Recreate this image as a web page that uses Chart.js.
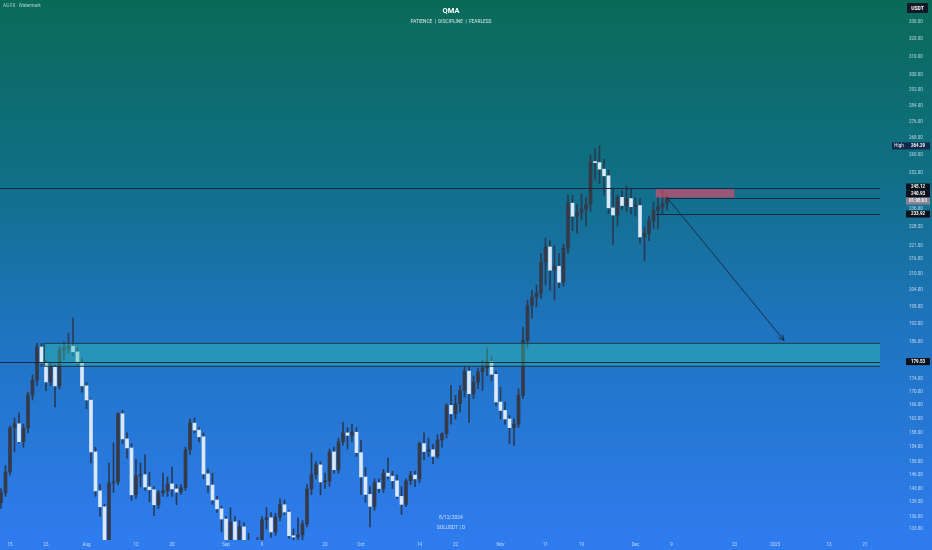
<!DOCTYPE html>
<html>
<head>
<meta charset="utf-8">
<script src="https://cdn.jsdelivr.net/npm/chart.js@4.4.1/dist/chart.umd.min.js"></script>
<style>
  html, body { margin: 0; padding: 0; background: #1a6f9a; }
  #wrap { width: 932px; height: 550px; }
</style>
</head>
<body>
<div id="wrap"><canvas id="chart" width="932" height="550"></canvas></div>
<script>
// SOLUSDT daily, first candle on startDate
const startDate = '2024-07-13';

const opens = [
  139.4,141.9,147.3,159.4,160.6,155.5,159.4,169.1,173.7,184.3,
  179.1,173.1,177.8,171.9,183.4,184.0,184.6,182.7,179.1,171.9,
  167.6,152.7,142.4,138.4,129.5,144.4,144.7,163.5,156.3,153.8,
  141.4,146.3,146.6,143.4,142.7,138.9,141.9,142.4,144.2,142.9,
  142.1,143.2,153.3,160.8,158.8,156.9,146.8,143.9,140.1,137.9,
  135.4,130.0,134.7,130.5,133.5,129.0,127.0,128.0,129.5,135.2,
  135.7,132.3,135.9,138.9,137.1,131.4,131.1,131.6,134.2,142.9,
  146.6,149.2,144.7,144.9,152.7,147.9,155.5,158.0,157.3,158.2,
  152.5,146.0,141.5,138.5,144.5,143.0,147.0,146.2,145.0,141.0,
  139.0,145.0,146.5,145.5,155.0,152.8,153.3,151.5,156.0,157.8,
  166.0,163.5,166.5,170.5,176.5,169.5,173.0,176.3,177.5,179.5,
  175.5,167.0,164.5,162.0,159.5,160.5,169.0,186.5,198.5,201.5,
  203.0,214.5,220.5,211.5,213.0,207.0,220.0,238.5,233.0,234.5,
  236.0,238.0,257.0,256.5,253.5,250.5,236.5,233.5,241.0,237.5,
  240.5,237.0,237.5,224.5,226.0,231.0,235.5,237.0,238.5
];
const highs = [
  143.0,149.0,160.0,162.3,163.8,160.5,170.0,175.3,185.5,185.5,
  180.0,179.0,178.5,184.5,186.0,189.0,194.1,184.0,180.5,173.0,
  168.0,154.0,144.0,139.0,149.7,155.2,163.8,164.5,158.0,155.0,
  150.6,149.7,151.9,147.3,143.5,142.5,147.0,146.0,148.6,144.0,
  144.0,154.0,162.0,162.3,159.5,158.0,148.0,147.0,141.0,138.5,
  136.0,138.2,136.0,135.0,134.5,132.0,130.0,131.0,136.0,138.2,
  137.0,136.8,140.4,140.1,137.5,133.0,135.7,135.0,144.0,152.4,
  150.0,150.0,147.0,153.5,154.0,156.5,161.0,159.5,160.5,159.5,
  156.0,148.5,143.5,145.5,145.5,148.0,151.0,147.5,146.5,143.5,
  145.5,147.5,147.5,155.5,158.0,156.5,154.8,157.5,158.0,166.5,
  172.0,169.0,172.0,178.0,178.0,175.0,177.5,180.0,184.0,181.0,
  176.5,171.5,167.0,163.0,162.0,171.0,191.0,200.5,204.0,206.0,
  218.0,224.0,223.0,221.0,218.0,221.5,242.0,242.0,238.0,242.5,
  241.0,260.0,263.0,264.3,258.0,253.0,245.0,242.0,244.0,246.0,
  245.0,241.0,240.5,228.5,233.0,239.0,241.0,244.0,242.0
];
const lows = [
  138.0,141.0,146.5,152.7,155.2,154.0,158.0,167.6,172.0,178.0,
  170.4,172.0,165.5,171.0,180.0,182.4,181.5,178.0,170.0,165.0,
  149.7,141.0,136.0,110.0,128.0,142.0,143.9,155.0,151.0,140.0,
  140.5,143.4,142.5,139.6,136.2,138.0,141.0,141.0,141.0,138.9,
  141.5,142.5,152.0,158.0,155.5,145.5,142.0,139.0,137.0,132.3,
  128.0,129.0,129.0,127.0,128.0,123.0,125.0,126.0,129.0,133.0,
  131.0,131.5,135.0,136.5,130.8,128.0,129.0,129.0,133.5,141.4,
  145.5,141.4,143.0,143.5,147.0,147.0,154.5,153.5,155.5,151.5,
  141.5,139.5,133.5,137.5,142.0,142.0,145.5,143.0,140.5,136.5,
  138.5,144.0,143.5,144.5,150.5,151.5,149.5,151.0,154.0,156.5,
  160.5,162.0,164.0,168.5,161.0,168.0,171.0,170.5,175.0,173.5,
  166.0,162.0,160.5,155.0,154.5,159.5,168.0,184.0,194.0,198.0,
  201.0,206.0,204.0,200.5,205.0,205.5,218.0,227.0,226.0,231.5,
  229.0,235.0,249.0,247.0,242.0,234.0,221.5,229.0,236.0,235.0,
  234.0,233.0,222.0,215.0,223.0,228.0,228.0,234.0,235.5
];
const closes = [
  141.9,147.3,159.4,160.6,155.5,159.4,169.1,173.7,184.3,179.1,
  173.1,177.8,171.9,183.4,184.0,184.6,182.7,179.1,171.9,167.6,
  152.7,142.4,138.4,129.5,144.4,144.7,163.5,156.3,153.8,141.4,
  146.3,146.6,143.4,142.7,138.9,141.9,142.4,144.2,142.9,142.1,
  143.2,153.3,160.8,158.8,156.9,146.8,143.9,140.1,137.9,135.4,
  130.0,134.7,130.5,133.5,129.0,127.0,128.0,129.5,135.2,135.7,
  132.3,135.9,138.9,137.1,131.4,131.1,131.6,134.2,142.9,146.6,
  149.2,144.7,144.9,152.7,147.9,155.5,158.0,157.3,158.2,152.5,
  146.0,141.5,138.5,144.5,143.0,147.0,146.2,145.0,141.0,139.0,
  145.0,146.5,145.5,155.0,152.8,153.3,151.5,156.0,157.8,166.0,
  163.5,166.5,170.5,176.5,169.5,173.0,176.3,177.5,179.5,175.5,
  167.0,164.5,162.0,159.5,160.5,169.0,186.5,198.5,201.5,203.0,
  214.5,220.5,211.5,213.0,207.0,220.0,238.5,233.0,234.5,236.0,
  238.0,257.0,256.5,253.5,250.5,236.5,233.5,241.0,237.5,240.5,
  237.0,237.5,224.5,226.0,231.0,235.5,237.0,238.5,240.93
];

// axis ticks
const xTickDates  = ['2024-07-15','2024-07-23','2024-08-01','2024-08-12','2024-08-20','2024-09-01','2024-09-09',
                     '2024-09-23','2024-10-01','2024-10-14','2024-10-22','2024-11-01','2024-11-11','2024-11-19',
                     '2024-12-01','2024-12-09','2024-12-23','2025-01-01','2025-01-13','2025-01-21'];
const xTickLabels = ['15','23','Aug','12','20','Sep','9','23','Oct','14','22','Nov','11','19','Dec','9','23','2025','13','21'];
const yTicks = [330,320,310,300,292,284,276,268,260,252,236,228.5,221,216,210,204,198,192,186,
                174,170,166,162,158,154,150,146.5,143,139.5,136,133];

// drawings
const highValue   = 264.29;
const levelLine   = 245.12;
const supportLine = 233.92;
const zoneLine    = 179.53;
const demandZone  = { from: '2024-07-22', low: 178.2, high: 185.7 };
const supplyZone  = { from: '2024-12-06', to: '2024-12-23', low: 240.93, high: 244.5 };
const arrowPath   = { from: ['2024-12-08', 240.93], to: ['2025-01-03', 186.5] };
const countdown   = '01:08:03';

const DAY = 86400000;
const dayIndex = d => Math.round((Date.parse(d) - Date.parse(startDate)) / DAY);

const UP   = '#343a48';
const DOWN = '#dce8f5';
const WICK = '#2b3a52';

const bodies = opens.map((o, i) => ({ x: i, y: [o, closes[i]] }));
const wicks  = lows.map((l, i) => ({ x: i, y: [l, highs[i]] }));
const bodyColors = opens.map((o, i) => closes[i] >= o ? UP : DOWN);

const xTickDays = xTickDates.map(dayIndex);

const bgPlugin = {
    id: 'bg',
    beforeDraw(chart) {
        const { ctx, width, height } = chart;
        const g = ctx.createLinearGradient(0, 0, 0, height);
        g.addColorStop(0, '#0a6a58');
        g.addColorStop(0.3, '#0f6f82');
        g.addColorStop(0.6, '#1f74c0');
        g.addColorStop(1, '#2f7cf0');
        ctx.save();
        ctx.fillStyle = g;
        ctx.fillRect(0, 0, width, height);
        ctx.restore();
    }
};

const drawingsPlugin = {
    id: 'drawings',
    afterDatasetsDraw(chart) {
        const { ctx, chartArea: a } = chart;
        const px = v => chart.scales.x.getPixelForValue(v);
        const py = v => chart.scales.y.getPixelForValue(v);
        ctx.save();
        ctx.beginPath();
        ctx.rect(a.left, a.top, a.right - a.left, a.bottom - a.top);
        ctx.clip();

        // demand zone
        const zx = px(dayIndex(demandZone.from) + 0.5);
        const zt = py(demandZone.high), zb = py(demandZone.low);
        ctx.fillStyle = 'rgba(52,190,170,0.42)';
        ctx.fillRect(zx, zt, a.right - zx, zb - zt);
        ctx.strokeStyle = '#17394a';
        ctx.lineWidth = 1;
        ctx.strokeRect(zx + 0.5, zt + 0.5, a.right - zx, zb - zt);

        // supply zone
        const sx = px(dayIndex(supplyZone.from) - 0.5), sx2 = px(dayIndex(supplyZone.to));
        const st = py(supplyZone.high), sb = py(supplyZone.low);
        ctx.fillStyle = 'rgba(245,70,100,0.6)';
        ctx.fillRect(sx, st, sx2 - sx, sb - st);

        // horizontal levels
        const hline = (v, x0) => {
            const y = Math.round(py(v)) + 0.5;
            ctx.beginPath();
            ctx.moveTo(x0, y);
            ctx.lineTo(a.right, y);
            ctx.stroke();
        };
        ctx.strokeStyle = '#152a40';
        hline(zoneLine, a.left);
        hline(levelLine, a.left);
        const last = closes.length - 1;
        hline(closes[last], px(last));
        hline(supportLine, px(last - 2.5));

        // arrow
        const x1 = px(dayIndex(arrowPath.from[0])), y1 = py(arrowPath.from[1]);
        const x2 = px(dayIndex(arrowPath.to[0])),   y2 = py(arrowPath.to[1]);
        ctx.strokeStyle = '#1a2c48';
        ctx.beginPath();
        ctx.moveTo(x1, y1);
        ctx.lineTo(x2, y2);
        const ang = Math.atan2(y2 - y1, x2 - x1);
        ctx.moveTo(x2, y2);
        ctx.lineTo(x2 - 6 * Math.cos(ang - 0.45), y2 - 6 * Math.sin(ang - 0.45));
        ctx.moveTo(x2, y2);
        ctx.lineTo(x2 - 6 * Math.cos(ang + 0.45), y2 - 6 * Math.sin(ang + 0.45));
        ctx.stroke();
        ctx.restore();
    },
    afterDraw(chart) {
        const { ctx, chartArea: a } = chart;
        const py = v => chart.scales.y.getPixelForValue(v);
        const bx = a.right + 26, bw = 24;

        const tag = (y, text, bg, fg) => {
            ctx.fillStyle = bg;
            ctx.fillRect(bx, y - 3.5, bw, 7);
            ctx.fillStyle = fg;
            ctx.font = 'bold 4.5px Roboto';
            ctx.textAlign = 'center';
            ctx.textBaseline = 'middle';
            ctx.fillText(text, bx + bw / 2, y + 0.3);
        };

        ctx.save();
        // price tags on the scale
        const lastY = py(closes[closes.length - 1]);
        const priceY = lastY - 3.5, timerY = lastY + 3.5;
        const levelY = Math.min(py(levelLine), priceY - 7);
        tag(levelY, levelLine.toFixed(2), '#0d1018', '#ffffff');
        tag(priceY, closes[closes.length - 1].toFixed(2), '#0d1018', '#ffffff');
        tag(timerY, countdown, '#8a8393', '#f4f4f4');
        tag(py(supportLine), supportLine.toFixed(2), '#0d1018', '#ffffff');
        tag(py(zoneLine), zoneLine.toFixed(2), '#0d1018', '#ffffff');

        const hy = py(highValue);
        ctx.fillStyle = '#11294c';
        ctx.fillRect(bx - 14, hy - 3.5, 14, 7);
        tag(hy, highValue.toFixed(2), '#11294c', '#ffffff');
        ctx.fillStyle = '#ffffff';
        ctx.font = '4.5px Roboto';
        ctx.fillText('High', bx - 7, hy + 0.3);

        // currency box
        ctx.fillStyle = '#121a28';
        ctx.fillRect(bx + 1, 3, 21, 10);
        ctx.fillStyle = '#ffffff';
        ctx.font = 'bold 5px Roboto';
        ctx.fillText('USDT', bx + 11.5, 8.3);

        // header texts
        ctx.textAlign = 'left';
        ctx.fillStyle = 'rgba(255,255,255,0.65)';
        ctx.font = '4.5px Roboto';
        ctx.fillText('AG FX \u00b7 Watermark', 3, 6);

        const cx = (a.left + a.right) / 2 + 11;
        ctx.textAlign = 'center';
        ctx.fillStyle = '#ffffff';
        ctx.font = 'bold 7.5px Roboto';
        ctx.fillText('QMA', cx, 11);
        ctx.fillStyle = 'rgba(255,255,255,0.85)';
        ctx.font = '4.8px Roboto';
        ctx.fillText('PATIENCE  |  DISCIPLINE  |  FEARLESS', cx, 22);

        ctx.fillStyle = 'rgba(255,255,255,0.75)';
        ctx.font = '5px Roboto';
        ctx.fillText('8/12/2024', cx, 518);
        ctx.fillText('SOLUSDT | D', cx, 528);
        ctx.restore();
    }
};

new Chart(document.getElementById('chart'), {
    type: 'bar',
    data: {
        datasets: [
            {
                label: 'wick',
                data: wicks,
                backgroundColor: WICK,
                barThickness: 1,
                grouped: false,
                order: 2
            },
            {
                label: 'body',
                data: bodies,
                backgroundColor: bodyColors,
                barThickness: 3,
                minBarLength: 1,
                grouped: false,
                order: 1
            }
        ]
    },
    options: {
        responsive: false,
        animation: false,
        layout: { padding: 0 },
        plugins: {
            legend: { display: false },
            tooltip: { enabled: false }
        },
        scales: {
            x: {
                type: 'linear',
                min: -0.22,
                max: 195.33,
                offset: false,
                grid: { display: false, drawTicks: false },
                border: { display: false },
                afterFit: s => { s.height = 10; s.paddingLeft = 0; s.paddingRight = 0; },
                afterBuildTicks: s => { s.ticks = xTickDays.map(v => ({ value: v })); },
                ticks: {
                    autoSkip: false,
                    maxRotation: 0,
                    padding: 2,
                    color: 'rgba(225,235,250,0.8)',
                    font: { family: 'Roboto', size: 4.5 },
                    callback: v => xTickLabels[xTickDays.indexOf(v)]
                }
            },
            y: {
                type: 'logarithmic',
                position: 'right',
                min: 130.4,
                max: 343.3,
                grid: { display: false, drawTicks: true, tickLength: 27 },
                border: { display: false },
                afterFit: s => { s.width = 52; s.paddingTop = 0; s.paddingBottom = 0; },
                afterBuildTicks: s => { s.ticks = yTicks.map(v => ({ value: v })); },
                ticks: {
                    autoSkip: false,
                    padding: 2,
                    color: 'rgba(225,235,250,0.8)',
                    font: { family: 'Roboto', size: 4.5 },
                    callback: v => Number(v).toFixed(2)
                }
            }
        }
    },
    plugins: [bgPlugin, drawingsPlugin]
});
</script>
</body>
</html>
